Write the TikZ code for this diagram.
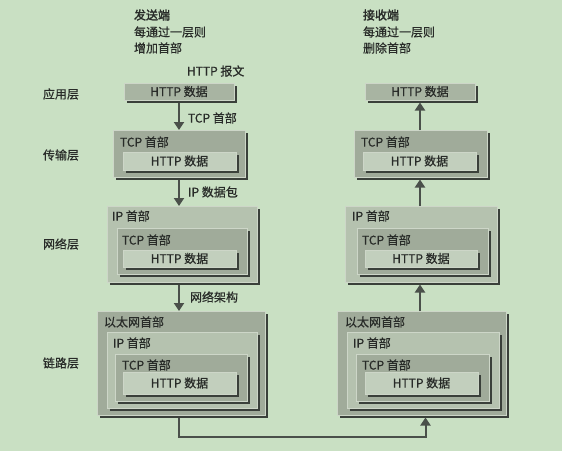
\documentclass[tikz,border=0pt]{standalone}
\usepackage{fontspec}
\setmainfont{Noto Sans CJK SC}[FakeBold=0.6]
\newfontfamily\hdfont[FakeBold=2]{Noto Sans CJK SC}
\usetikzlibrary{arrows.meta,shadows}
\definecolor{bg}{RGB}{201,224,195}
\definecolor{dk}{RGB}{160,171,154}
\definecolor{lt}{RGB}{181,194,175}
\definecolor{ht}{RGB}{194,207,189}
\definecolor{ap}{RGB}{168,180,162}
\definecolor{shd}{RGB}{58,64,58}
\definecolor{edge}{RGB}{205,214,200}
\definecolor{txt}{RGB}{40,43,40}
\definecolor{arc}{RGB}{74,80,74}
\begin{document}
\begin{tikzpicture}[x=1pt,y=-1pt,
  every node/.style={inner sep=0pt, outer sep=0pt, font=\fontsize{12}{14}\selectfont, text=txt},
  pbox/.style={anchor=north west, draw=edge, line width=0.5pt,
    drop shadow={shadow xshift=2.5pt, shadow yshift=-2.5pt, fill=shd, opacity=1}},
  lbl/.style={anchor=west},
  arr/.style={draw=arc, line width=2pt, -{Triangle[width=10pt,length=8pt]}},
  conn/.style={draw=arc, line width=2pt}]
\fill[bg] (0,0) rectangle (562,451);
\useasboundingbox (0,0) rectangle (562,451);

% headers
\node[lbl] (hs1) at (134,15) {\hdfont 发送端};
\node[lbl] (hs2) at (134,32) {每通过一层则};
\node[lbl] (hs3) at (134,48) {增加首部};
\node[lbl] (hr1) at (363,15) {\hdfont 接收端};
\node[lbl] (hr2) at (363,32) {每通过一层则};
\node[lbl] (hr3) at (363,48) {删除首部};
\node[lbl] (msg) at (187,71) {HTTP 报文};

% layer labels
\node (l1) at (61,94) {应用层};
\node (l2) at (61,155) {传输层};
\node (l3) at (61,244) {网络层};
\node (l4) at (61,363) {链路层};

% ---------- left column ----------
\node[pbox, fill=ap, minimum width=110pt, minimum height=17pt] (Lapp) at (124,83) {HTTP 数据};

\node[pbox, fill=dk, minimum width=132pt, minimum height=47pt] (Ltcp) at (113,130) {};
\node[lbl] (Ltcpt) at (120,142) {TCP 首部};
\node[pbox, fill=ht, minimum width=113pt, minimum height=18pt] (Ltcph) at (123,152) {HTTP 数据};

\node[pbox, fill=lt, minimum width=150pt, minimum height=76pt] (Lip) at (107,206) {};
\node[lbl] (Lipt) at (112,216) {IP 首部};
\node[pbox, fill=dk, minimum width=130pt, minimum height=46pt] (Liptcp) at (117,228) {};
\node[lbl] (Liptcpt) at (122,240) {TCP 首部};
\node[pbox, fill=ht, minimum width=113pt, minimum height=17pt] (Liph) at (123,250) {HTTP 数据};

\node[pbox, fill=dk, minimum width=168pt, minimum height=104pt] (Llk) at (97,311) {};
\node[lbl] (Llkt) at (104,322) {以太网首部};
\node[pbox, fill=lt, minimum width=150pt, minimum height=76pt] (Llkip) at (107,332) {};
\node[lbl] (Llkipt) at (113,343) {IP 首部};
\node[pbox, fill=dk, minimum width=132pt, minimum height=47pt] (Llktcp) at (115,354) {};
\node[lbl] (Llktcpt) at (122,365) {TCP 首部};
\node[pbox, fill=ht, minimum width=113pt, minimum height=22pt] (Llkh) at (123,372) {HTTP 数据};

% ---------- right column ----------
\node[pbox, fill=ap, minimum width=110pt, minimum height=17pt] (Rapp) at (365,83) {HTTP 数据};

\node[pbox, fill=dk, minimum width=133pt, minimum height=47pt] (Rtcp) at (354,130) {};
\node[lbl] (Rtcpt) at (361,142) {TCP 首部};
\node[pbox, fill=ht, minimum width=113pt, minimum height=18pt] (Rtcph) at (363,152) {HTTP 数据};

\node[pbox, fill=lt, minimum width=152pt, minimum height=76pt] (Rip) at (345,206) {};
\node[lbl] (Ript) at (352,216) {IP 首部};
\node[pbox, fill=dk, minimum width=131pt, minimum height=46pt] (Riptcp) at (357,228) {};
\node[lbl] (Riptcpt) at (362,240) {TCP 首部};
\node[pbox, fill=ht, minimum width=112pt, minimum height=17pt] (Riph) at (365,250) {HTTP 数据};

\node[pbox, fill=dk, minimum width=169pt, minimum height=104pt] (Rlk) at (337,311) {};
\node[lbl] (Rlkt) at (345,322) {以太网首部};
\node[pbox, fill=lt, minimum width=152pt, minimum height=76pt] (Rlkip) at (347,332) {};
\node[lbl] (Rlkipt) at (353,343) {IP 首部};
\node[pbox, fill=dk, minimum width=133pt, minimum height=47pt] (Rlktcp) at (356,354) {};
\node[lbl] (Rlktcpt) at (362,365) {TCP 首部};
\node[pbox, fill=ht, minimum width=113pt, minimum height=22pt] (Rlkh) at (365,372) {HTTP 数据};

% ---------- arrows, left (down) ----------
\draw[arr] ([yshift=-2.5pt]Lapp.south) -- (Lapp.south |- Ltcp.north);
\draw[arr] ([yshift=-2.5pt]Ltcp.south) -- (Ltcp.south |- Lip.north);
\draw[arr] ([yshift=-2.5pt]Lip.south -| Ltcp.south) -- (Ltcp.south |- Llk.north);
\node[lbl] (a1) at (188,118) {TCP 首部};
\node[lbl] (a2) at (188,192) {IP 数据包};
\node[lbl] (a3) at (190,297) {网络架构};

% ---------- arrows, right (up) ----------
\draw[arr] (Rapp.south |- Rtcp.north) -- ([yshift=-2.5pt]Rapp.south);
\draw[arr] (Rapp.south |- Rip.north) -- ([yshift=-2.5pt]Rapp.south |- Rtcp.south);
\draw[arr] (Rapp.south |- Rlk.north) -- ([yshift=-2.5pt]Rapp.south |- Rip.south);

% ---------- bottom connector ----------
\coordinate (cL) at (Ltcp.south |- 0,437);
\coordinate (cR) at (Rlk.south |- 0,437);
\draw[conn] ([yshift=-2.5pt]Ltcp.south |- Llk.south) -- (cL) -- ([xshift=4pt]cR);
\draw[arr] ([xshift=4pt,yshift=-1pt]cR) -- ([xshift=4pt,yshift=-2.5pt]Rlk.south);
\end{tikzpicture}
\end{document}
